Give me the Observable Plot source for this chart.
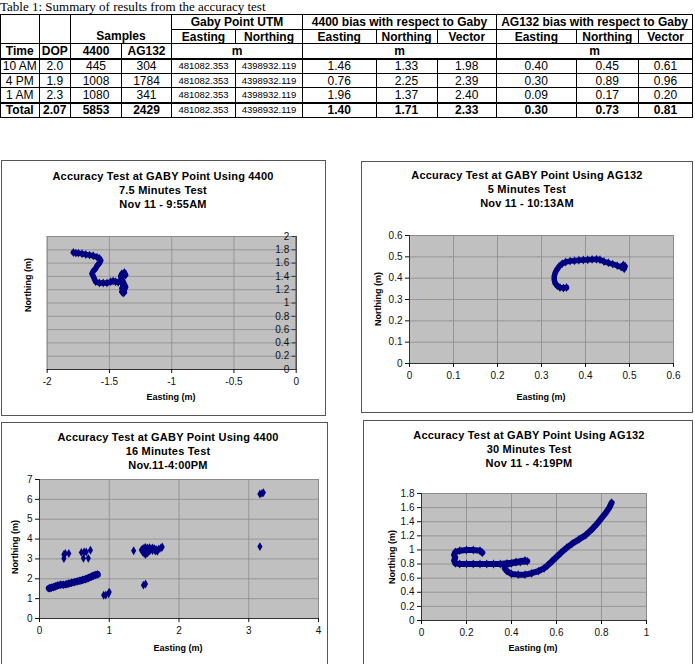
<!DOCTYPE html>
<html><head><meta charset="utf-8">
<script src="https://cdn.jsdelivr.net/npm/d3@7"></script>
<script src="https://cdn.jsdelivr.net/npm/@observablehq/plot@0.6"></script>
<style>
body{margin:0;background:#fff;}
#page{position:relative;width:695px;height:664px;overflow:hidden;font-family:"Liberation Sans",Arial,sans-serif;color:#000;}
#cap{position:absolute;left:0;top:0;font-family:"Liberation Serif","Times New Roman",serif;font-size:13px;line-height:14px;white-space:nowrap;}
#tbl{position:absolute;left:0;top:14px;border-collapse:collapse;table-layout:fixed;width:692px;border:1.5px solid #000;}
#tbl tr{height:14.7px;}
#tbl td{border:1px solid #000;padding:0;text-align:center;font-size:12px;line-height:12px;white-space:nowrap;overflow:hidden;}
#tbl td.h{font-weight:bold;}
#tbl td.s{font-size:9.5px;}
#tbl tr.first td{border-top:2px solid #000;}
#tbl tr.tot td{border-top:2px solid #000;font-weight:bold;}
#tbl tr.tot td.s{font-weight:normal;}
.box{position:absolute;border:1.5px solid #555;box-sizing:border-box;}
.ttl{position:absolute;width:320px;text-align:center;font-weight:bold;font-size:11px;line-height:13.8px;letter-spacing:0.2px;white-space:nowrap;}
.axt{position:absolute;font-weight:bold;font-size:9px;line-height:10px;white-space:nowrap;transform:translate(-50%,-50%);}
.axt.rot{transform:translate(-50%,-50%) rotate(-90deg);}
</style>
</head><body>
<div id="page"></div>
<script>
// ---------- table data ----------
const times = ["10 AM", "4 PM", "1 AM", "Total"];
const dop = ["2.0", "1.9", "2.3", "2.07"];
const samples4400 = ["445", "1008", "1080", "5853"];
const samplesAG132 = ["304", "1784", "341", "2429"];
const utmEasting = ["481082.353", "481082.353", "481082.353", "481082.353"];
const utmNorthing = ["4398932.119", "4398932.119", "4398932.119", "4398932.119"];
const bias4400E = ["1.46", "0.76", "1.96", "1.40"];
const bias4400N = ["1.33", "2.25", "1.37", "1.71"];
const bias4400V = ["1.98", "2.39", "2.40", "2.33"];
const biasAGE = ["0.40", "0.30", "0.09", "0.30"];
const biasAGN = ["0.45", "0.89", "0.17", "0.73"];
const biasAGV = ["0.61", "0.96", "0.20", "0.81"];

// ---------- chart 1: 4400, 7.5 min, 9:55AM ----------
const e1 = [-1.79,-1.77,-1.75,-1.72,-1.69,-1.66,-1.63,-1.60,-1.58,-1.57,-1.58,-1.60,-1.61,-1.63,-1.64,-1.63,-1.62,-1.61,-1.58,-1.55,-1.52,-1.49,-1.47,-1.45,-1.43,-1.41,-1.40,-1.39,-1.39,-1.40,-1.39,-1.38,-1.39,-1.40,-1.38,-1.37,-1.38,-1.39,-1.40,-1.41,-1.40,-1.38,-1.37];
const n1 = [1.76,1.75,1.75,1.74,1.73,1.72,1.71,1.69,1.67,1.64,1.60,1.56,1.52,1.48,1.44,1.40,1.36,1.32,1.30,1.30,1.30,1.32,1.33,1.32,1.31,1.32,1.30,1.28,1.25,1.22,1.19,1.16,1.15,1.17,1.20,1.24,1.28,1.32,1.36,1.40,1.44,1.46,1.42];
const x1Ticks = [-2, -1.5, -1, -0.5, 0];
const y1Ticks = [0, 0.2, 0.4, 0.6, 0.8, 1, 1.2, 1.4, 1.6, 1.8, 2];

// ---------- chart 2: AG132, 5 min, 10:13AM ----------
const e2 = [0.357,0.350,0.342,0.336,0.331,0.329,0.329,0.331,0.335,0.340,0.347,0.355,0.365,0.375,0.385,0.395,0.405,0.415,0.425,0.433,0.442,0.452,0.462,0.472,0.481,0.488,0.490,0.486];
const n2 = [0.356,0.354,0.356,0.364,0.376,0.392,0.408,0.424,0.440,0.455,0.468,0.476,0.480,0.482,0.484,0.485,0.486,0.488,0.489,0.486,0.478,0.472,0.466,0.459,0.452,0.444,0.456,0.462];
const x2Ticks = [0, 0.1, 0.2, 0.3, 0.4, 0.5, 0.6];
const y2Ticks = [0, 0.1, 0.2, 0.3, 0.4, 0.5, 0.6];

// ---------- chart 3: 4400, 16 min, 4:00PM ----------
const e3Band = [0.14,0.17,0.20,0.23,0.26,0.30,0.34,0.38,0.42,0.46,0.50,0.54,0.58,0.62,0.66,0.70,0.74,0.77,0.80,0.83];
const n3Band = [1.52,1.55,1.58,1.62,1.66,1.70,1.70,1.72,1.76,1.80,1.83,1.87,1.90,1.94,1.98,2.04,2.10,2.15,2.19,2.22];
const e3Pts = [0.35,0.35,0.37,0.42,0.60,0.64,0.67,0.63,0.70,0.73,0.92,0.95,0.99,1.00,1.35,1.46,1.48,1.50,1.52,1.55,1.58,1.62,1.65,1.68,1.71,1.74,1.76,1.48,1.50,1.52,1.55,1.58,1.62,1.66,1.69,1.53,1.57,1.60,1.64,1.50,1.55,1.49,1.52,3.16,3.16,3.19,3.21];
const n3Pts = [3.02,3.22,3.27,3.27,3.33,3.35,3.35,3.03,3.03,3.44,1.17,1.18,1.25,1.33,3.41,3.45,3.50,3.55,3.58,3.55,3.57,3.55,3.52,3.46,3.50,3.55,3.60,3.35,3.28,3.22,3.30,3.40,3.42,3.40,3.38,3.45,3.48,3.50,3.48,3.40,3.38,1.68,1.74,3.62,6.27,6.30,6.34];
const x3Ticks = [0, 1, 2, 3, 4];
const y3Ticks = [0, 1, 2, 3, 4, 5, 6, 7];

// ---------- chart 4: AG132, 30 min, 4:19PM ----------
const e4 = [0.27,0.26,0.23,0.20,0.17,0.15,0.145,0.15,0.145,0.15,0.17,0.20,0.23,0.26,0.29,0.32,0.35,0.38,0.42,0.46,0.47,0.44,0.40,0.37,0.37,0.38,0.40,0.43,0.46,0.49,0.52,0.545,0.56,0.58,0.60,0.62,0.645,0.67,0.70,0.73,0.76,0.78,0.80,0.82,0.835,0.845];
const n4 = [0.96,0.99,1.00,1.00,0.99,0.97,0.93,0.89,0.85,0.81,0.80,0.80,0.80,0.80,0.80,0.80,0.80,0.81,0.83,0.85,0.84,0.83,0.81,0.78,0.74,0.70,0.66,0.65,0.65,0.67,0.70,0.74,0.78,0.84,0.90,0.96,1.03,1.09,1.15,1.21,1.30,1.37,1.45,1.53,1.60,1.67];
const x4Ticks = [0, 0.2, 0.4, 0.6, 0.8, 1];
const y4Ticks = [0, 0.2, 0.4, 0.6, 0.8, 1, 1.2, 1.4, 1.6, 1.8];

const page = document.getElementById("page");

// ---------- table ----------
const cap = document.createElement("div");
cap.id = "cap";
cap.textContent = "Table 1: Summary of results from the accuracy test";
page.appendChild(cap);

const widths = [38.5, 31.5, 51, 50, 64, 67, 73.5, 61, 59.5, 79.5, 62.5, 54];
let html = "<colgroup>" + widths.map(w => `<col style="width:${w}px">`).join("") + "</colgroup>";
html += `<tr><td class="h" rowspan="2"></td><td class="h" rowspan="2"></td><td class="h" rowspan="2" colspan="2" style="vertical-align:bottom;padding-bottom:1px">Samples</td><td class="h" colspan="2">Gaby Point UTM</td><td class="h" colspan="3">4400 bias with respect to Gaby</td><td class="h" colspan="3">AG132 bias with respect to Gaby</td></tr>`;
html += `<tr>${["Easting","Northing","Easting","Northing","Vector","Easting","Northing","Vector"].map(t=>`<td class="h">${t}</td>`).join("")}</tr>`;
html += `<tr><td class="h">Time</td><td class="h">DOP</td><td class="h">4400</td><td class="h">AG132</td><td class="h" colspan="2">m</td><td class="h" colspan="3">m</td><td class="h" colspan="3">m</td></tr>`;
times.forEach((t, i) => {
  const cls = i === 0 ? "first" : (i === times.length - 1 ? "tot" : "");
  html += `<tr class="${cls}"><td>${t}</td><td>${dop[i]}</td><td>${samples4400[i]}</td><td>${samplesAG132[i]}</td><td class="s">${utmEasting[i]}</td><td class="s">${utmNorthing[i]}</td><td>${bias4400E[i]}</td><td>${bias4400N[i]}</td><td>${bias4400V[i]}</td><td>${biasAGE[i]}</td><td>${biasAGN[i]}</td><td>${biasAGV[i]}</td></tr>`;
});
const tbl = document.createElement("table");
tbl.id = "tbl";
tbl.innerHTML = html;
page.appendChild(tbl);

// ---------- charts ----------
const navy = "#000080";
const fmt = d => String(d);

function drawPanel(p) {
  const [bl, bt, br, bb] = p.box, [fl, ft, fr, fb] = p.frame;
  const W = br - bl, H = bb - bt;
  const marks = [
    Plot.frame({fill: "#c0c0c0", stroke: "#8c8c8c"}),
    Plot.gridX(p.xTicks, {stroke: "#8c8c8c", strokeOpacity: 1, strokeWidth: 0.8}),
    Plot.gridY(p.yTicks, {stroke: "#8c8c8c", strokeOpacity: 1, strokeWidth: 0.8})
  ];
  p.series.forEach(s => {
    const pts = s.e.map((e, i) => ({e, n: s.n[i]}));
    if (s.line) marks.push(Plot.line(pts, {x: "e", y: "n", stroke: navy, strokeWidth: s.line, strokeLinecap: "round", strokeLinejoin: "round"}));
    marks.push(Plot.dot(pts, {x: "e", y: "n", symbol: "diamond", r: 2.7, fill: navy}));
  });
  marks.push(
    Plot.ruleY([p.yDomain[0]], {stroke: "#333", strokeWidth: 1}),
    Plot.axisX(p.xTicks, {tickSize: 4, tickPadding: 4, tickFormat: fmt, label: null, color: "#111", fontSize: 10})
  );
  if (p.yRight) {
    marks.push(
      Plot.ruleX([p.xDomain[1]], {stroke: "#333", strokeWidth: 1}),
      Plot.tickY(p.yTicks, {y: d => d, insetLeft: (fr - fl) - 4, stroke: "#333"}),
      Plot.text(p.yTicks, {x: () => p.xDomain[1], y: d => d, text: fmt, textAnchor: "end", dx: -7, fill: "#111", fontSize: 10})
    );
  } else {
    marks.push(
      Plot.ruleX([p.xDomain[0]], {stroke: "#333", strokeWidth: 1}),
      Plot.axisY(p.yTicks, {tickSize: 4, tickPadding: 3, tickFormat: fmt, label: null, color: "#111", fontSize: 10})
    );
  }
  const svg = Plot.plot({
    width: W, height: H,
    marginLeft: fl - bl, marginRight: br - fr, marginTop: ft - bt, marginBottom: bb - fb,
    x: {domain: p.xDomain, axis: null},
    y: {domain: p.yDomain, axis: null},
    style: {background: "transparent", fontFamily: "'Liberation Sans', Arial, sans-serif", fontSize: "10px", overflow: "visible"},
    marks
  });
  svg.style.position = "absolute";
  svg.style.left = bl + "px";
  svg.style.top = bt + "px";
  svg.style.maxWidth = "none";
  page.appendChild(svg);

  const box = document.createElement("div");
  box.className = "box";
  Object.assign(box.style, {left: bl + "px", top: bt + "px", width: W + "px", height: H + "px"});
  page.appendChild(box);

  const t = document.createElement("div");
  t.className = "ttl";
  t.style.left = (p.title.cx - 160) + "px";
  t.style.top = (p.title.y - 7) + "px";
  t.innerHTML = p.title.lines.join("<br>");
  page.appendChild(t);

  const ax = document.createElement("div");
  ax.className = "axt";
  ax.style.left = p.xLab[0] + "px"; ax.style.top = p.xLab[1] + "px";
  ax.textContent = "Easting (m)";
  page.appendChild(ax);
  const ay = document.createElement("div");
  ay.className = "axt rot";
  ay.style.left = p.yLab[0] + "px"; ay.style.top = p.yLab[1] + "px";
  ay.textContent = "Northing (m)";
  page.appendChild(ay);
}

drawPanel({
  box: [1, 160, 326, 416], frame: [46.7, 236, 295.7, 369],
  xDomain: [-2, 0], yDomain: [0, 2], xTicks: x1Ticks, yTicks: y1Ticks, yRight: true,
  series: [{e: e1, n: n1, line: 5.5}],
  title: {cx: 163, y: 177, lines: ["Accuracy Test at GABY Point Using 4400", "7.5 Minutes Test", "Nov 11 - 9:55AM"]},
  xLab: [171, 397], yLab: [28, 285]
});
drawPanel({
  box: [361, 161, 693, 413], frame: [409, 235, 673, 363],
  xDomain: [0, 0.6], yDomain: [0, 0.6], xTicks: x2Ticks, yTicks: y2Ticks,
  series: [{e: e2, n: n2, line: 5.5}],
  title: {cx: 527, y: 176, lines: ["Accuracy Test at GABY Point Using AG132", "5 Minutes Test", "Nov 11 - 10:13AM"]},
  xLab: [541, 397], yLab: [378, 299]
});
drawPanel({
  box: [1, 422, 328, 672], frame: [39, 479, 318, 618],
  xDomain: [0, 4], yDomain: [0, 7], xTicks: x3Ticks, yTicks: y3Ticks,
  series: [{e: e3Band, n: n3Band, line: 7}, {e: e3Pts, n: n3Pts, line: 0}],
  title: {cx: 168, y: 438, lines: ["Accuracy Test at GABY Point Using 4400", "16 Minutes Test", "Nov.11-4:00PM"]},
  xLab: [178, 648], yLab: [15, 547]
});
drawPanel({
  box: [363, 420, 693, 672], frame: [421, 493, 646, 620],
  xDomain: [0, 1], yDomain: [0, 1.8], xTicks: x4Ticks, yTicks: y4Ticks,
  series: [{e: e4, n: n4, line: 6}],
  title: {cx: 529, y: 436, lines: ["Accuracy Test at GABY Point Using AG132", "30 Minutes Test", "Nov 11 - 4:19PM"]},
  xLab: [533, 648], yLab: [392, 557]
});
</script>
</body></html>
